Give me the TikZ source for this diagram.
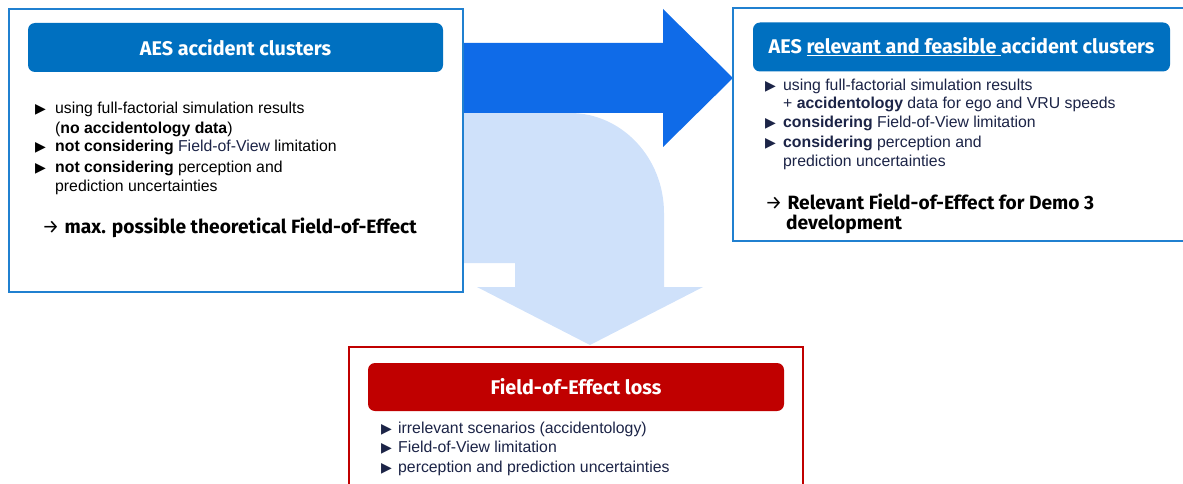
\documentclass[tikz,border=0pt]{standalone}
\usepackage{fontspec}
\setmainfont{Liberation Sans}
\newfontfamily\symfont{DejaVu Sans}
\newfontfamily\headfont{Fira Sans}
\usetikzlibrary{positioning}
\definecolor{frameblue}{HTML}{2080D0}
\definecolor{headblue}{HTML}{0070C0}
\definecolor{arrowblue}{HTML}{0F6BE8}
\definecolor{lightblue}{HTML}{CFE1FA}
\definecolor{lossred}{HTML}{C00000}
\definecolor{navy}{HTML}{1C2447}

\begin{document}
\begin{tikzpicture}[x=1pt, y=-1pt,
	txt/.style={anchor=base west, inner sep=0pt, font=\fontsize{15.8}{18}\selectfont},
	bul/.style={anchor=base west, inner sep=0pt, font=\symfont\fontsize{14}{14}\selectfont},
	res/.style={anchor=base west, inner sep=0pt, font=\headfont\fontsize{19.2}{22}\selectfont},
	hdr/.style={rounded corners=7pt, text=white, font=\headfont\bfseries\fontsize{19.8}{22}\selectfont, minimum height=49pt, inner sep=0pt},
	frame/.style={line width=2pt, fill=white}]
		\clip (0,0) rectangle (1183,484);
		% 浅色弯箭头
		\fill [lightblue] (440,113) -- (570,113) .. controls (622,113) and (664,158) .. (664,213) -- (664,287) -- (703,287) -- (590,345) -- (477,287) -- (515,287) -- (515,263) -- (440,263) -- cycle;
		% 蓝色箭头
		\fill [arrowblue] (440,43) -- (663,43) -- (663,9) -- (733,78) -- (663,147) -- (663,113) -- (440,113) -- cycle;
		% 方框
		\draw [frame, draw=frameblue] (9,9) rectangle (463,292);
		\draw [frame, draw=frameblue] (733,8) rectangle (1195,241);
		\draw [frame, draw=lossred] (349,347) rectangle (803,500);
		% 标题
		\node [hdr, fill=headblue, minimum width=415pt] (hdA) at (235.5,47.5) {AES accident clusters};
		\node [hdr, fill=headblue, minimum width=417pt] (hdB) at (961.5,47) {AES \underline{relevant and feasible }accident clusters};
		\node [hdr, fill=lossred, minimum width=416pt, minimum height=48pt] (hdC) at (576,387) {Field-of-Effect loss};
		% 左框文字
		\node [bul] (bA1) at (35,114) {▶};
		\node [txt] (tA1) at (55,114) {using full-factorial simulation results};
		\node [txt] (tA2) at (55,134) {(\textbf{no accidentology data})};
		\node [bul] (bA3) at (35,152) {▶};
		\node [txt] (tA3) at (55,152) {\textbf{not considering} \textcolor{navy}{Field-of-View} limitation};
		\node [bul] (bA4) at (35,172) {▶};
		\node [txt] (tA4) at (55,172) {\textbf{not considering} perception and};
		\node [txt] (tA5) at (55,191) {prediction uncertainties};
		\node [res] (rA) at (42,233) {→ \textbf{max. possible theoretical Field-of-Effect}};
		% 右框文字
		\begin{scope}[every node/.append style={text=navy}]
		\node [bul] (bB1) at (765,91) {▶};
		\node [txt] (tB1) at (783,91) {using full-factorial simulation results};
		\node [txt] (tB2) at (783,109) {+ \textbf{accidentology} data for ego and VRU speeds};
		\node [bul] (bB3) at (765,128) {▶};
		\node [txt] (tB3) at (783,128) {\textbf{considering} Field-of-View limitation};
		\node [bul] (bB4) at (765,148) {▶};
		\node [txt] (tB4) at (783,148) {\textbf{considering} perception and};
		\node [txt] (tB5) at (783,167) {prediction uncertainties};
		\end{scope}
		\node [res] (rB1) at (765,209) {→ \textbf{Relevant Field-of-Effect for Demo 3}};
		\node [res] (rB2) at (786,229) {\textbf{development}};
		% 下框文字
		\begin{scope}[every node/.append style={text=navy}]
		\node [bul] (bC1) at (381,433) {▶};
		\node [txt] (tC1) at (398,433) {irrelevant scenarios (accidentology)};
		\node [bul] (bC2) at (381,452) {▶};
		\node [txt] (tC2) at (398,452) {Field-of-View limitation};
		\node [bul] (bC3) at (381,472) {▶};
		\node [txt] (tC3) at (398,472) {perception and prediction uncertainties};
		\end{scope}
	\end{tikzpicture}
\end{document}
